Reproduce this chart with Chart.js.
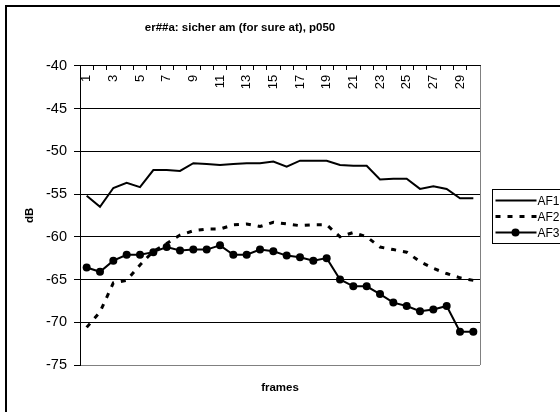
<!DOCTYPE html>
<html>
<head>
<meta charset="utf-8">
<script src="https://cdn.jsdelivr.net/npm/chart.js@4.4.0/dist/chart.umd.min.js"></script>
<style>
  body { margin: 0; background: #fff; }
  canvas { display: block; }
</style>
</head>
<body>
<canvas id="myChart" width="560" height="412"></canvas>
<script>
const frames = ["1","2","3","4","5","6","7","8","9","10","11","12","13","14","15","16","17","18","19","20","21","22","23","24","25","26","27","28","29","30"];
const af1 = [-55.2,-56.5,-54.3,-53.7,-54.2,-52.2,-52.2,-52.3,-51.4,-51.5,-51.6,-51.5,-51.4,-51.4,-51.2,-51.8,-51.1,-51.1,-51.1,-51.6,-51.7,-51.7,-53.3,-53.2,-53.2,-54.4,-54.1,-54.4,-55.5,-55.5];
const af2 = [-70.6,-68.8,-65.4,-65.1,-63.3,-61.7,-60.8,-59.8,-59.3,-59.1,-59.1,-58.6,-58.5,-58.8,-58.3,-58.5,-58.7,-58.6,-58.6,-60.0,-59.5,-60.0,-61.2,-61.5,-61.8,-62.9,-63.7,-64.3,-64.8,-65.1];
const af3 = [-63.6,-64.1,-62.8,-62.1,-62.1,-61.8,-61.2,-61.6,-61.5,-61.5,-61.0,-62.1,-62.1,-61.5,-61.7,-62.2,-62.4,-62.8,-62.5,-65.0,-65.8,-65.8,-66.7,-67.7,-68.1,-68.7,-68.5,-68.1,-71.1,-71.1];
const seriesNames = ["AF1", "AF2", "AF3"];

const FONT = "'Liberation Sans', Arial, sans-serif";

// white page, outer frame and grey plot border
const frame = {
    id: "frame",
    beforeDraw(chart) {
        const c = chart.ctx;
        c.save();
        c.fillStyle = "#fff";
        c.fillRect(0, 0, chart.width, chart.height);
        c.restore();
    },
    afterDatasetsDraw(chart) {
        const c = chart.ctx, a = chart.chartArea;
        c.save();
        c.strokeStyle = "#808080";
        c.lineWidth = 1;
        c.beginPath();
        c.moveTo(Math.round(a.right) + 0.5, a.top);
        c.lineTo(Math.round(a.right) + 0.5, a.bottom);
        c.stroke();
        c.strokeStyle = "#000";
        c.lineWidth = 2;
        c.strokeRect(6, 6, 700, 600);
        c.restore();
    }
};

// Excel style legend box to the right of the plot
const boxLegend = {
    id: "boxLegend",
    afterDraw(chart) {
        const c = chart.ctx;
        const x0 = 492.5, y0 = 189.5, rowH = 16;
        c.save();
        c.strokeStyle = "#000";
        c.lineWidth = 1;
        c.strokeRect(x0, y0, 100, 54);
        c.font = "12px " + FONT;
        c.fillStyle = "#000";
        c.textBaseline = "middle";
        chart.data.datasets.forEach((ds, i) => {
            const y = y0 + 11 + i * rowH;
            c.beginPath();
            c.setLineDash(ds.borderDash || []);
            c.lineWidth = ds.borderWidth;
            c.strokeStyle = ds.borderColor;
            c.moveTo(x0 + 3, y);
            c.lineTo(x0 + 44, y);
            c.stroke();
            c.setLineDash([]);
            if (ds.pointRadius > 0) {
                c.beginPath();
                c.arc(x0 + 23, y, ds.pointRadius, 0, Math.PI * 2);
                c.fillStyle = ds.pointBackgroundColor;
                c.fill();
            }
            c.fillStyle = "#000";
            c.fillText(ds.label, x0 + 45, y + 1);
        });
        c.restore();
    }
};

new Chart("myChart", {
    type: "line",
    data: {
        labels: frames,
        datasets: [
            { label: seriesNames[0], data: af1, borderColor: "#000", borderWidth: 2, pointRadius: 0, tension: 0 },
            { label: seriesNames[1], data: af2, borderColor: "#000", borderWidth: 3, borderDash: [5, 7], pointRadius: 0, tension: 0 },
            { label: seriesNames[2], data: af3, borderColor: "#000", borderWidth: 2, pointRadius: 4,
              pointBackgroundColor: "#000", pointBorderColor: "#000", pointBorderWidth: 0, tension: 0 }
        ]
    },
    options: {
        responsive: false,
        devicePixelRatio: 1,
        animation: false,
        events: [],
        layout: { padding: { left: 0, right: 80, top: 0, bottom: 0 } },
        plugins: {
            legend: { display: false },
            tooltip: { enabled: false },
            title: {
                display: true,
                text: "er##a: sicher am (for sure at), p050",
                color: "#000",
                font: { family: FONT, size: 11.5, weight: "bold" },
                padding: { top: 21, bottom: 31 }
            }
        },
        scales: {
            x: {
                position: { y: -40 },
                offset: true,
                grid: { offset: true, drawOnChartArea: false, drawTicks: true, tickLength: 4, tickColor: "#000" },
                border: { display: true, color: "#000", width: 1 },
                ticks: {
                    autoSkip: false,
                    minRotation: 90,
                    maxRotation: 90,
                    padding: 5,
                    color: "#000",
                    font: { family: FONT, size: 13 },
                    callback: (v, i) => (i % 2 === 0 ? frames[i] : "")
                }
            },
            xt: {
                type: "category",
                position: "bottom",
                grid: { display: false },
                border: { display: false },
                ticks: { display: false },
                title: {
                    display: true,
                    text: "frames",
                    color: "#000",
                    font: { family: FONT, size: 11.5, weight: "bold" },
                    padding: { top: 0, bottom: 17 }
                },
                afterFit: (s) => { s.height = 47; }
            },
            y: {
                min: -75,
                max: -40,
                grid: {
                    color: (ctx) => (ctx.tick && ctx.tick.value === -75 ? "#808080" : "#000"),
                    tickColor: "#000",
                    tickLength: 6,
                    lineWidth: 1
                },
                border: { display: true, color: "#000", width: 1 },
                ticks: {
                    stepSize: 5,
                    padding: 7,
                    color: "#000",
                    font: { family: FONT, size: 14.5 }
                },
                title: {
                    display: true,
                    text: "dB",
                    color: "#000",
                    font: { family: FONT, size: 11.5, weight: "bold" },
                    padding: { top: 23, bottom: 0 }
                },
                afterFit: (s) => { s.width = 80; }
            }
        }
    },
    plugins: [frame, boxLegend]
});
</script>
</body>
</html>
